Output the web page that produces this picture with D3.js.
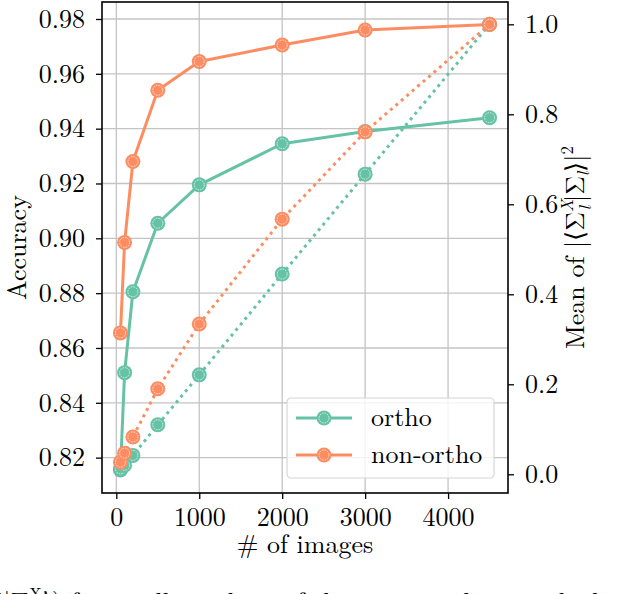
<!DOCTYPE html>
<html>
<head>
<meta charset="utf-8">
<script src="https://cdn.jsdelivr.net/npm/d3@7"></script>
<style>
  body { margin: 0; background: #fff; overflow: hidden; }
</style>
</head>
<body>
<div id="vis"></div>
<script>
var width = 620,
    height = 594;

// data
var images = [50, 100, 200, 500, 1000, 2000, 3000, 4500];
var orthoAcc = [0.8155, 0.851, 0.8805, 0.9055, 0.9195, 0.9345, 0.939, 0.944];
var nonOrthoAcc = [0.8655, 0.8985, 0.928, 0.954, 0.9645, 0.9705, 0.976, 0.978];
var orthoMean = [0.012, 0.02, 0.042, 0.11, 0.221, 0.445, 0.667, 1.0];
var nonOrthoMean = [0.027, 0.047, 0.083, 0.19, 0.334, 0.567, 0.761, 1.0];
var xTicks = [0, 1000, 2000, 3000, 4000];
var accTicks = [0.82, 0.84, 0.86, 0.88, 0.90, 0.92, 0.94, 0.96, 0.98];
var meanTicks = [0.0, 0.2, 0.4, 0.6, 0.8, 1.0];
var seriesNames = ["ortho", "non-ortho"];
var colors = ["#66c2a5", "#fc8d62"];

var font = "'Latin Modern Roman', 'Liberation Serif', serif";
var pLeft = 102, pRight = 508, pTop = 2, pBottom = 493;

var svg = d3.select("#vis").append("svg")
    .attr("width", width)
    .attr("height", height)
    .style("display", "block");

var x = d3.scaleLinear().domain([-172.5, 4722.5]).range([pLeft, pRight]),
    yL = d3.scaleLinear().domain([0.8071, 0.9862]).range([pBottom, pTop]),
    yR = d3.scaleLinear().domain([-0.0416, 1.0496]).range([pBottom, pTop]);

// grid
var grid = svg.append("g")
    .attr("stroke", "#c4c4c4")
    .attr("stroke-width", 1.3);
grid.selectAll(".vg").data(xTicks).enter().append("line")
    .attr("x1", function(d) { return x(d); })
    .attr("x2", function(d) { return x(d); })
    .attr("y1", pTop).attr("y2", pBottom);
grid.selectAll(".hg").data(accTicks).enter().append("line")
    .attr("y1", function(d) { return yL(d); })
    .attr("y2", function(d) { return yL(d); })
    .attr("x1", pLeft).attr("x2", pRight);

function series(vals, yScale, dotted, k) {
    var pts = images.map(function(d, i) { return [x(d), yScale(vals[i])]; });
    svg.append("path")
        .attr("d", d3.line()(pts))
        .attr("fill", "none")
        .attr("stroke", colors[k])
        .attr("stroke-width", 3)
        .attr("stroke-dasharray", dotted ? "3 4.2" : null)
        .attr("stroke-linejoin", "round");
    var g = svg.append("g");
    pts.forEach(function(p) { marker(g, p[0], p[1], colors[k]); });
}

function marker(g, cx, cy, c) {
    g.append("circle")
        .attr("cx", cx).attr("cy", cy).attr("r", 7.5)
        .attr("fill", c);
    g.append("circle")
        .attr("cx", cx).attr("cy", cy).attr("r", 5)
        .attr("fill", "none")
        .attr("stroke", "#fff")
        .attr("stroke-opacity", 0.85)
        .attr("stroke-width", 0.8)
        .attr("stroke-dasharray", "1.6 1");
}

series(orthoAcc, yL, false, 0);
series(nonOrthoAcc, yL, false, 1);
series(orthoMean, yR, true, 0);
series(nonOrthoMean, yR, true, 1);

// spines
svg.append("rect")
    .attr("x", pLeft).attr("y", pTop)
    .attr("width", pRight - pLeft).attr("height", pBottom - pTop)
    .attr("fill", "none")
    .attr("stroke", "#000")
    .attr("stroke-width", 1.6);

// axes
function style(g) {
    g.select(".domain").remove();
    g.selectAll(".tick line").attr("stroke", "#000").attr("stroke-width", 1.3);
    g.selectAll(".tick text").attr("fill", "#000")
        .style("font-size", "26px")
        .style("font-family", font);
}

svg.append("g")
    .attr("transform", "translate(0," + pBottom + ")")
    .call(d3.axisBottom(x).tickValues(xTicks).tickSize(6).tickPadding(9).tickFormat(d3.format("d")))
    .call(style);

svg.append("g")
    .attr("transform", "translate(" + pLeft + ",0)")
    .call(d3.axisLeft(yL).tickValues(accTicks).tickSize(6).tickPadding(11).tickFormat(d3.format(".2f")))
    .call(style);

svg.append("g")
    .attr("transform", "translate(" + pRight + ",0)")
    .call(d3.axisRight(yR).tickValues(meanTicks).tickSize(6).tickPadding(11).tickFormat(d3.format(".1f")))
    .call(style);

function label(sel) {
    return sel.style("font-family", font).style("font-size", "26px").attr("fill", "#000");
}

// labels
svg.append("text")
    .attr("x", (pLeft + pRight) / 2).attr("y", 553)
    .attr("text-anchor", "middle")
    .call(label)
    .text("# of images");

svg.append("text")
    .attr("transform", "translate(26," + (pTop + pBottom) / 2 + ")rotate(-90)")
    .attr("text-anchor", "middle")
    .call(label)
    .text("Accuracy");

var rl = svg.append("text")
    .attr("transform", "translate(584," + (pTop + pBottom) / 2 + ")rotate(-90)")
    .attr("text-anchor", "middle")
    .call(label);
rl.append("tspan").text("Mean of |⟨Σ");
rl.append("tspan").style("font-size", "17px").attr("font-style", "italic").attr("dy", -11).text("X");
rl.append("tspan").style("font-size", "17px").attr("font-style", "italic").attr("dx", -11).attr("dy", 18).text("l");
rl.append("tspan").attr("dx", 4).attr("dy", -7).text("|Σ");
rl.append("tspan").style("font-size", "17px").attr("font-style", "italic").attr("dy", 5).text("l");
rl.append("tspan").attr("dy", -5).text("⟩|");
rl.append("tspan").style("font-size", "17px").attr("dy", -11).text("2");

// legend
var lg = svg.append("g").attr("transform", "translate(287,398)");
lg.append("rect")
    .attr("width", 207).attr("height", 80)
    .attr("rx", 4)
    .attr("fill", "#fff").attr("fill-opacity", 0.8)
    .attr("stroke", "#d6d6d6").attr("stroke-width", 1.2);
seriesNames.forEach(function(name, i) {
    var yy = 20 + i * 37;
    lg.append("line")
        .attr("x1", 9).attr("x2", 65)
        .attr("y1", yy).attr("y2", yy)
        .attr("stroke", colors[i]).attr("stroke-width", 3);
    marker(lg, 37, yy, colors[i]);
    lg.append("text")
        .attr("x", 84).attr("y", yy + 8)
        .call(label)
        .text(name);
});

// caption line cut off by the bottom edge of the picture
var cap = svg.append("text")
    .attr("x", -4).attr("y", 611)
    .call(label);
cap.append("tspan").text("l|Σ");
cap.append("tspan").style("font-size", "17px").attr("dy", -11).text("X");
cap.append("tspan").attr("dy", 11).text("⟩) for small numbers of the training data, with the fixed ratio of");
</script>
</body>
</html>
